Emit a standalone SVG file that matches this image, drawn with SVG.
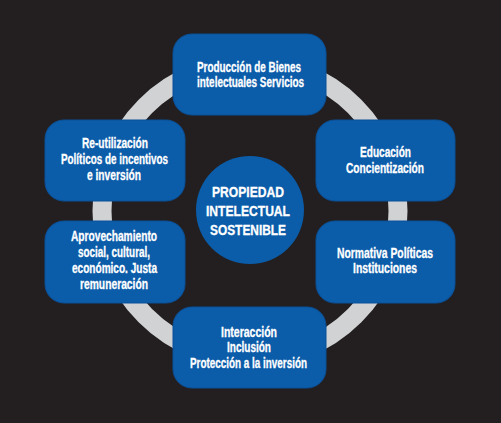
<svg xmlns="http://www.w3.org/2000/svg" width="501" height="423" viewBox="0 0 501 423">
<style>
.box{fill:#0b5ca9;stroke:#0a5098;stroke-width:1}
.t{font-family:"Liberation Sans",Arial,sans-serif;font-weight:bold;font-size:14px;fill:#ffffff;stroke:#ffffff;stroke-width:0.3;text-anchor:middle}
</style>
<rect x="0" y="0" width="501" height="423" fill="#231f20"/>
<g id="connectors">
<circle cx="250" cy="211" r="148" fill="none" stroke="#d1d2d4" stroke-width="19"/>
</g>
<g id="center">
<circle cx="250" cy="210" r="54" fill="#0b5ca9"/>
<text class="t" x="248" y="197" textLength="72" lengthAdjust="spacingAndGlyphs">PROPIEDAD</text>
<text class="t" x="248" y="216" textLength="84" lengthAdjust="spacingAndGlyphs">INTELECTUAL</text>
<text class="t" x="248" y="235" textLength="76" lengthAdjust="spacingAndGlyphs">SOSTENIBLE</text>
</g>
<g id="top">
<rect class="box" x="173" y="34" width="153" height="81" rx="19"/>
<text class="t" x="249" y="72" textLength="104" lengthAdjust="spacingAndGlyphs">Producción de Bienes</text>
<text class="t" x="250.5" y="87" textLength="107" lengthAdjust="spacingAndGlyphs">intelectuales Servicios</text>
</g>
<g id="left-top">
<rect class="box" x="45" y="120" width="140" height="81" rx="19"/>
<text class="t" x="115" y="148" textLength="66" lengthAdjust="spacingAndGlyphs">Re-utilización</text>
<text class="t" x="114.5" y="164" textLength="107" lengthAdjust="spacingAndGlyphs">Políticos de incentivos</text>
<text class="t" x="114" y="180" textLength="54" lengthAdjust="spacingAndGlyphs">e inversión</text>
</g>
<g id="left-bottom">
<rect class="box" x="45" y="221" width="140" height="82" rx="19"/>
<text class="t" x="114" y="241" textLength="86" lengthAdjust="spacingAndGlyphs">Aprovechamiento</text>
<text class="t" x="114" y="257" textLength="72" lengthAdjust="spacingAndGlyphs">social, cultural,</text>
<text class="t" x="114.5" y="273" textLength="85" lengthAdjust="spacingAndGlyphs">económico. Justa</text>
<text class="t" x="114" y="289" textLength="68" lengthAdjust="spacingAndGlyphs">remuneración</text>
</g>
<g id="right-top">
<rect class="box" x="316" y="120" width="139" height="81" rx="19"/>
<text class="t" x="385.5" y="157" textLength="51" lengthAdjust="spacingAndGlyphs">Educación</text>
<text class="t" x="385" y="173" textLength="78" lengthAdjust="spacingAndGlyphs">Concientización</text>
</g>
<g id="right-bottom">
<rect class="box" x="316" y="221" width="139" height="82" rx="19"/>
<text class="t" x="385" y="258" textLength="96" lengthAdjust="spacingAndGlyphs">Normativa Políticas</text>
<text class="t" x="385" y="273" textLength="64" lengthAdjust="spacingAndGlyphs">Instituciones</text>
</g>
<g id="bottom">
<rect class="box" x="173" y="307" width="153" height="81" rx="19"/>
<text class="t" x="249" y="337" textLength="56" lengthAdjust="spacingAndGlyphs">Interacción</text>
<text class="t" x="249" y="352" textLength="44" lengthAdjust="spacingAndGlyphs">Inclusión</text>
<text class="t" x="248.5" y="368" textLength="117" lengthAdjust="spacingAndGlyphs">Protección a la inversión</text>
</g>
</svg>
